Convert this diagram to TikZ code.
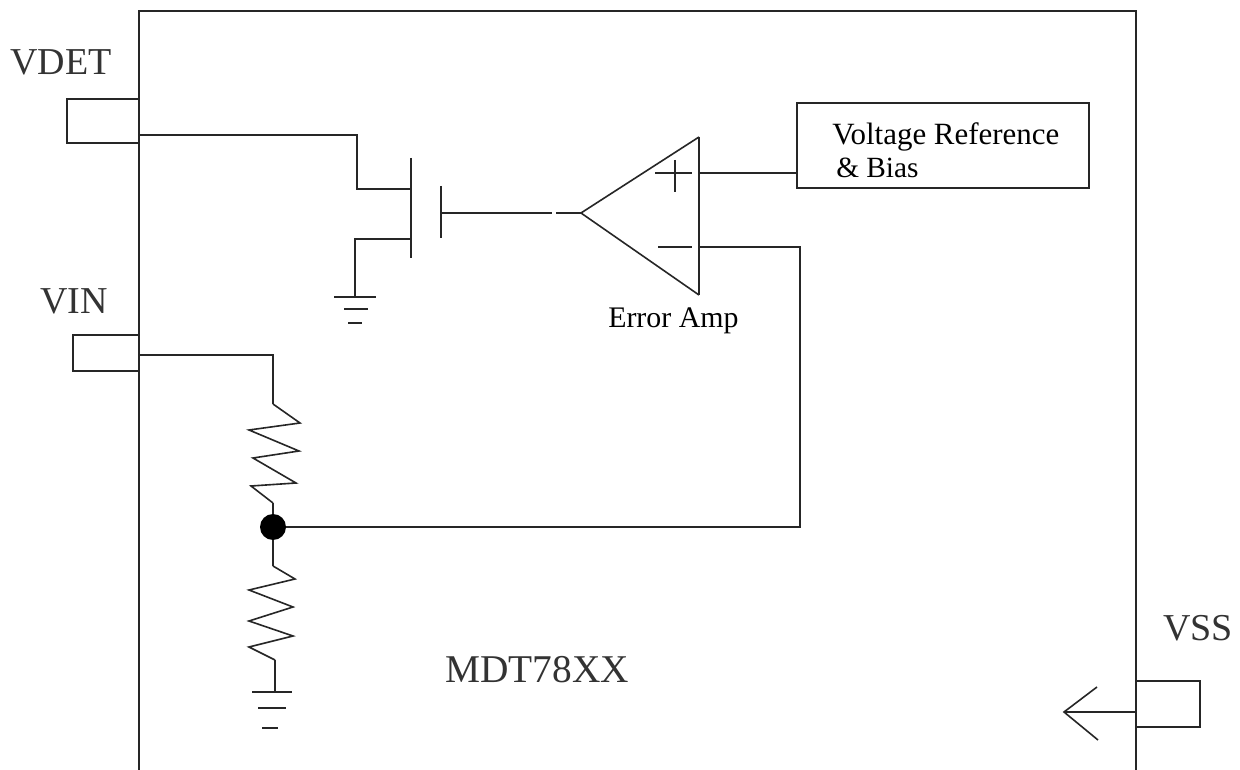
\documentclass[tikz,border=0pt]{standalone}
\usepackage{fontspec}
\setmainfont{Liberation Serif}
\tikzset{
  wire/.style={line width=1.5pt,draw=black!85,line join=miter},
  thin wire/.style={line width=1.2pt,draw=black!85,line join=miter},
  pin/.style={draw=black!85,line width=1.5pt,fill=white,inner sep=0pt,minimum width=#1},
  pinheight/.style={minimum height=#1},
  lab/.style={anchor=base west,inner sep=0pt,text=black!80},
  big/.style={lab,font=\fontsize{#1}{30pt}\selectfont},
  small/.style={lab,text=black,font=\fontsize{#1}{24pt}\selectfont},
  dot/.style={circle,fill=black,inner sep=0pt,minimum size=19.5pt},
}
\begin{document}
\begin{tikzpicture}[x=0.75pt,y=-0.75pt]
\useasboundingbox (0,0) rectangle (1240,770);
\fill[white] (0,0) rectangle (1240,770);
% package outline
\coordinate (fbl) at (139,770);
\coordinate (ftl) at (139,11);
\coordinate (ftr) at (1136,11);
\coordinate (fbr) at (1136,770);
\draw[wire] (fbl) -- (ftl) -- (ftr) -- (fbr);
% pins
\node[pin=72pt*0.75,pinheight=33pt] (vdet) at (103,121) {};
\node[pin=66pt*0.75,pinheight=27pt] (vin) at (106,353) {};
\node[pin=64pt*0.75,pinheight=34.5pt] (vss) at (1168,704) {};
\node[big=28.5pt] (lvdet) at (10,75) {VDET};
\node[big=28.5pt] (lvin) at (40,314) {VIN};
\node[big=28.5pt] (lvss) at (1163,640) {VSS};
\node[big=29.5pt] (lmdt) at (445,682) {MDT78XX};
% FET
\coordinate (d1) at (139,135);
\coordinate (d2) at (357,135);
\coordinate (d3) at (357,189);
\coordinate (d4) at (411,189);
\coordinate (ch1) at (411,158);
\coordinate (ch2) at (411,258);
\coordinate (s1) at (411,239);
\coordinate (s2) at (355,239);
\coordinate (s3) at (355,297);
\coordinate (g1) at (441,186);
\coordinate (g2) at (441,238);
\coordinate (g3) at (441,213);
\coordinate (g4) at (552,213);
\coordinate (g5) at (556,213);
\draw[wire] (d1) -- (d2) -- (d3) -- (d4);
\draw[wire] (ch1) -- (ch2);
\draw[wire] (s1) -- (s2) -- (s3);
\draw[wire] (g1) -- (g2);
\draw[wire] (g3) -- (g4);
% ground 1
\draw[wire] (334,297) -- (376,297);
\draw[wire] (344,309) -- (368,309);
\draw[wire] (348,323) -- (362,323);
% amp
\coordinate (apex) at (581,213);
\coordinate (atop) at (699,137);
\coordinate (abot) at (699,295);
\draw[wire] (g5) -- (apex);
\draw[thin wire] (atop) -- (apex) -- (abot);
\draw[wire] (atop) -- (abot);
\draw[wire] (655,173) -- (692,173);
\draw[wire] (675,160) -- (675,192);
\draw[wire] (658,247) -- (692,247);
\node[small=22.4pt] (lamp) at (608,327) {Error Amp};
% reference
\node[draw=black!85,line width=1.5pt,inner sep=0pt,minimum width=219pt,minimum height=63.75pt] (ref) at (943,145.5) {};
\node[small=23.2pt] (lref1) at (832,145) {Voltage Reference};
\node[small=22pt] (lref2) at (836,178) {\& Bias};
\coordinate (p1) at (699,173);
\draw[wire] (p1) -- (ref.west |- p1);
% feedback
\coordinate (m1) at (699,247);
\coordinate (m2) at (800,247);
\node[dot] (junc) at (273,527) {};
\draw[wire] (m1) -- (m2) |- (junc);
% divider
\coordinate (w1) at (139,355);
\coordinate (w2) at (273,355);
\coordinate (w3) at (273,404);
\draw[wire] (w1) -- (w2) -- (w3);
\draw[thin wire] (w3) -- (300,423) -- (249,430) -- (299,451) -- (253,458) -- (296,483) -- (251,486) -- (273,503);
\draw[wire] (273,503) -- (junc);
\coordinate (r1) at (273,566);
\draw[wire] (junc) -- (r1);
\coordinate (r2) at (275,660);
\coordinate (r3) at (275,692);
\draw[thin wire] (r1) -- (295,579) -- (249,590) -- (293,607) -- (249,621) -- (293,636) -- (249,647) -- (r2);
\draw[wire] (r2) -- (r3);
\draw[wire] (252,692) -- (292,692);
\draw[wire] (258,708) -- (286,708);
\draw[wire] (262,728) -- (278,728);
% VSS arrow
\coordinate (a0) at (1136,712);
\coordinate (a1) at (1064,712);
\draw[wire] (a0) -- (a1);
\draw[thin wire] (1097,687) -- (a1) -- (1098,740);
\end{tikzpicture}
\end{document}
